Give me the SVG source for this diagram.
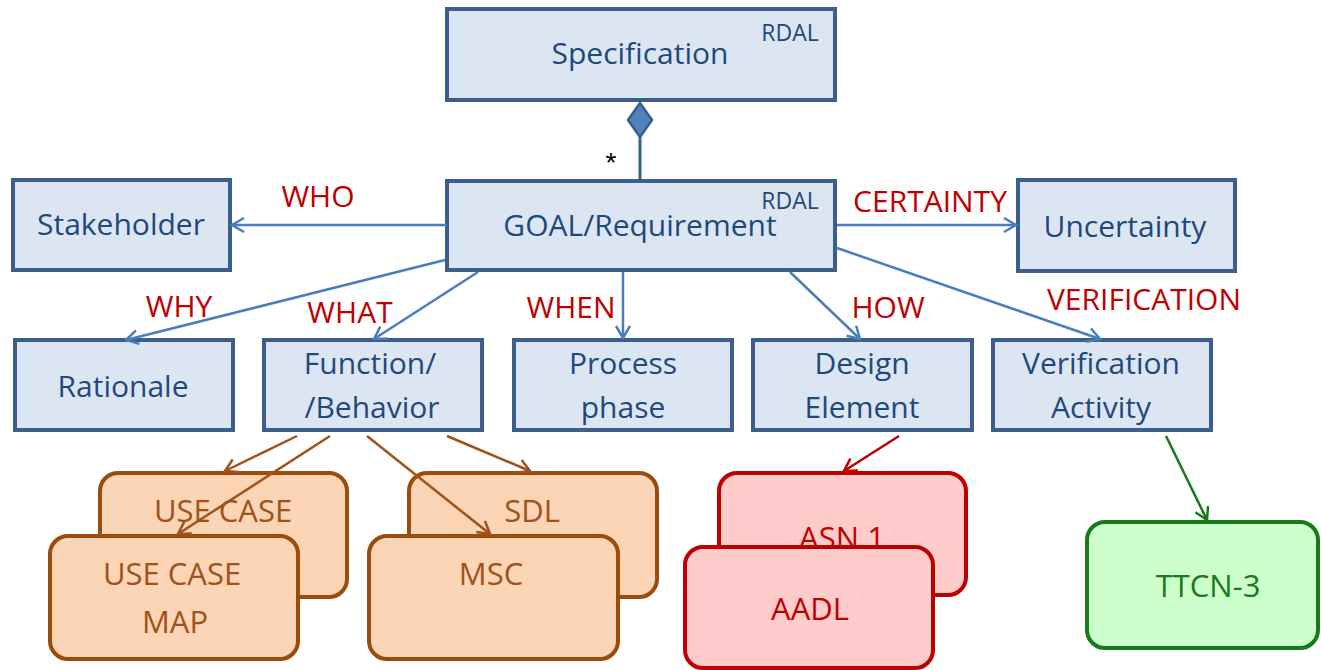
<svg xmlns="http://www.w3.org/2000/svg" width="1321" height="670" viewBox="0 0 1321 670">
<style>
.box{fill:#dce6f2;stroke:#3b5e8c;stroke-width:4}
.nt{font-family:"Open Sans","Liberation Sans",sans-serif;font-size:30px;fill:#1f497d;text-anchor:middle}
.rd{font-family:"Open Sans","Liberation Sans",sans-serif;font-size:23px;fill:#1f497d;text-anchor:middle}
.lb{font-family:"Open Sans","Liberation Sans",sans-serif;font-size:30px;fill:#c00000;text-anchor:middle}
.bl{fill:none;stroke:#4a7ebb;stroke-width:2.5}
.br{fill:none;stroke:#a0521a;stroke-width:2.5}
.rl{fill:none;stroke:#c00000;stroke-width:2.5}
.gl{fill:none;stroke:#1a7a1a;stroke-width:2.5}
.bbox{fill:#fbd5b5;stroke:#9a4c0c;stroke-width:4}
.rbox{fill:#ffcccc;stroke:#c00000;stroke-width:4}
.gbox{fill:#ccffcc;stroke:#1a7a1a;stroke-width:4}
.bt{font-family:"Open Sans","Liberation Sans",sans-serif;font-size:31px;fill:#a0521a;text-anchor:middle}
.rt{font-family:"Open Sans","Liberation Sans",sans-serif;font-size:31px;fill:#c00000;text-anchor:middle}
.gt{font-family:"Open Sans","Liberation Sans",sans-serif;font-size:31px;fill:#1a7a1a;text-anchor:middle}
</style>
<defs>
<marker id="ab" markerUnits="userSpaceOnUse" markerWidth="16" markerHeight="18" refX="13" refY="8" orient="auto"><path d="M1,1 L13,8 L1,15" fill="none" stroke="#4a7ebb" stroke-width="2.5"/></marker>
<marker id="abr" markerUnits="userSpaceOnUse" markerWidth="16" markerHeight="18" refX="13" refY="8" orient="auto"><path d="M1,1 L13,8 L1,15" fill="none" stroke="#a0521a" stroke-width="2.5"/></marker>
<marker id="ar" markerUnits="userSpaceOnUse" markerWidth="16" markerHeight="18" refX="13" refY="8" orient="auto"><path d="M1,1 L13,8 L1,15" fill="none" stroke="#c00000" stroke-width="2.5"/></marker>
<marker id="ag" markerUnits="userSpaceOnUse" markerWidth="16" markerHeight="18" refX="13" refY="8" orient="auto"><path d="M1,1 L13,8 L1,15" fill="none" stroke="#1a7a1a" stroke-width="2.5"/></marker>
</defs>

<g id="specification">
<rect class="box" x="447" y="9" width="388" height="91"/>
<text class="nt" x="640" y="64">Specification</text>
<text class="rd" x="790" y="41">RDAL</text>
</g>

<g id="goal">
<rect class="box" x="447" y="181" width="388" height="89"/>
<text class="nt" x="640" y="236">GOAL/Requirement</text>
<text class="rd" x="790" y="209">RDAL</text>
</g>

<g id="stakeholder">
<rect class="box" x="13" y="180" width="217" height="90"/>
<text class="nt" x="121" y="235">Stakeholder</text>
</g>

<g id="uncertainty">
<rect class="box" x="1018" y="180" width="217" height="91"/>
<text class="nt" x="1125" y="237">Uncertainty</text>
</g>

<g id="rationale">
<rect class="box" x="15" y="340" width="218" height="90"/>
<text class="nt" x="123" y="397">Rationale</text>
</g>

<g id="function">
<rect class="box" x="264" y="340" width="218" height="90"/>
<text class="nt" x="370" y="374">Function/</text>
<text class="nt" x="372" y="418">/Behavior</text>
</g>

<g id="process">
<rect class="box" x="514" y="340" width="218" height="90"/>
<text class="nt" x="623" y="374">Process</text>
<text class="nt" x="623" y="418">phase</text>
</g>

<g id="design">
<rect class="box" x="753" y="340" width="219" height="90"/>
<text class="nt" x="862" y="374">Design</text>
<text class="nt" x="862" y="418">Element</text>
</g>

<g id="verification">
<rect class="box" x="993" y="340" width="218" height="90"/>
<text class="nt" x="1101" y="374">Verification</text>
<text class="nt" x="1101" y="418">Activity</text>
</g>

<g id="usecase">
<rect class="bbox" x="100" y="473" width="247" height="124" rx="18"/>
<text class="bt" x="223" y="522">USE CASE</text>
</g>
<g id="sdl">
<rect class="bbox" x="409" y="473" width="248" height="124" rx="18"/>
<text class="bt" x="532" y="522">SDL</text>
</g>

<g id="connectors">
<line x1="640" y1="137" x2="640" y2="181" stroke="#3b5e8c" stroke-width="3"/>
<polygon points="640,103 652,120 640,137 628,120" fill="#4f81bd" stroke="#3b5e8c" stroke-width="2.5"/>
<line class="bl" x1="447" y1="225" x2="232" y2="225" marker-end="url(#ab)"/>
<line class="bl" x1="837" y1="225" x2="1016" y2="225" marker-end="url(#ab)"/>
<line class="bl" x1="445" y1="260" x2="126" y2="340" marker-end="url(#ab)"/>
<line class="bl" x1="478" y1="272" x2="374" y2="339" marker-end="url(#ab)"/>
<line class="bl" x1="623" y1="272" x2="623" y2="338" marker-end="url(#ab)"/>
<line class="bl" x1="790" y1="272" x2="860" y2="339" marker-end="url(#ab)"/>
<line class="bl" x1="837" y1="248" x2="1100" y2="339" marker-end="url(#ab)"/>
<line class="br" x1="297" y1="436" x2="225" y2="471" marker-end="url(#abr)"/>
<line class="br" x1="447" y1="436" x2="530" y2="471" marker-end="url(#abr)"/>
<line class="rl" x1="899" y1="436" x2="844" y2="471" marker-end="url(#ar)"/>
<line class="gl" x1="1166" y1="436" x2="1207" y2="520" marker-end="url(#ag)"/>
</g>

<g id="labels">
<text x="611" y="172" font-family="Liberation Sans,sans-serif" font-size="28" text-anchor="middle" fill="#000">*</text>
<text class="lb" x="318" y="207">WHO</text>
<text class="lb" x="930" y="212">CERTAINTY</text>
<text class="lb" x="179" y="317">WHY</text>
<text class="lb" x="350" y="323">WHAT</text>
<text class="lb" x="571" y="318">WHEN</text>
<text class="lb" x="888" y="318">HOW</text>
<text class="lb" x="1144" y="310">VERIFICATION</text>
</g>

<g id="usecasemap">
<rect class="bbox" x="50" y="536" width="248" height="123" rx="18"/>
<text class="bt" x="172" y="585">USE CASE</text>
<text class="bt" x="175" y="633">MAP</text>
</g>
<g id="msc">
<rect class="bbox" x="369" y="536" width="249" height="123" rx="18"/>
<text class="bt" x="491" y="585">MSC</text>
</g>

<g id="connectors-front">
<line class="br" x1="330" y1="436" x2="178" y2="534" marker-end="url(#abr)"/>
<line class="br" x1="367" y1="436" x2="490" y2="534" marker-end="url(#abr)"/>
</g>

<g id="asn1">
<rect class="rbox" x="719" y="473" width="247" height="122" rx="18"/>
<text class="rt" x="842" y="549">ASN.1</text>
</g>
<g id="aadl">
<rect class="rbox" x="685" y="547" width="248" height="121" rx="18"/>
<text class="rt" x="810" y="620">AADL</text>
</g>
<g id="ttcn3">
<rect class="gbox" x="1087" y="522" width="231" height="126" rx="18"/>
<text class="gt" x="1208" y="597">TTCN-3</text>
</g>
</svg>
